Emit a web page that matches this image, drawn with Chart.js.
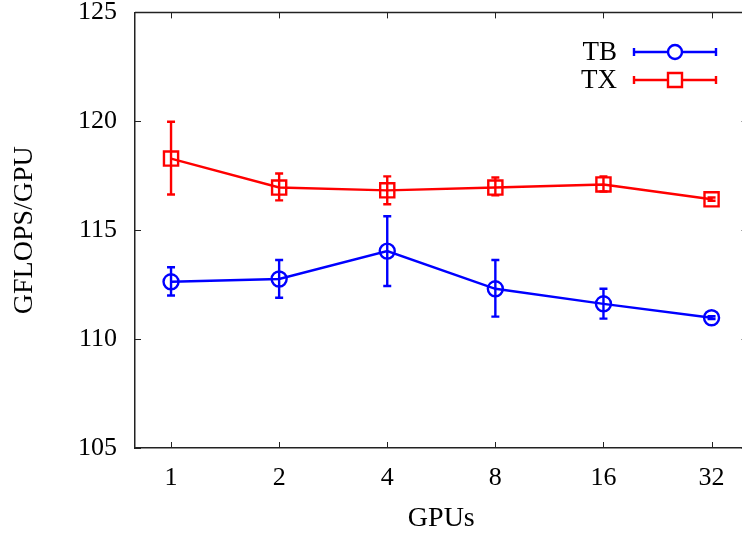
<!DOCTYPE html>
<html>
<head>
<meta charset="utf-8">
<script src="https://cdn.jsdelivr.net/npm/chart.js@4/dist/chart.umd.min.js"></script>
<style>
  html, body { margin: 0; padding: 0; background: #fff; overflow: hidden; }
  #wrap { width: 742px; height: 536px; overflow: hidden; }
</style>
</head>
<body>
<div id="wrap"><canvas id="gpuChart" width="760" height="536"></canvas></div>
<script>
// GPU counts (x categories)
const gpuLabels = ['1', '2', '4', '8', '16', '32'];

// TB series
const tbValues = [112.63, 112.76, 114.04, 112.31, 111.62, 110.98];
const tbLow    = [112.0, 111.9, 112.44, 111.03, 110.94, 110.92];
const tbHigh   = [113.3, 113.63, 115.64, 113.63, 112.31, 111.05];

// TX series
const txValues = [118.29, 116.96, 116.83, 116.96, 117.1, 116.42];
const txLow    = [116.64, 116.37, 116.19, 116.6, 116.78, 116.35];
const txHigh   = [119.98, 117.6, 117.47, 117.42, 117.47, 116.5];

const yTicks = [105, 110, 115, 120, 125];

const FONT = 'Liberation Serif';
const BLUE = '#0000ff';
const RED = '#ff0000';

const toPoints = vals => vals.map((v, i) => ({ x: i, y: v }));

const series = [
  { label: 'TB', color: BLUE, low: tbLow, high: tbHigh, marker: 'circle' },
  { label: 'TX', color: RED, low: txLow, high: txHigh, marker: 'rect' }
];

// frame, inward ticks, error bars, legend
const extras = {
  id: 'extras',
  beforeDatasetsDraw(chart) {
    const ctx = chart.ctx;
    const a = chart.chartArea;
    const xs = chart.scales.x, ys = chart.scales.y;
    ctx.save();
    ctx.strokeStyle = '#222';
    ctx.lineWidth = 1.5;
    ctx.beginPath();
    ctx.moveTo(a.left, a.top);
    ctx.lineTo(a.right, a.top);
    ctx.lineTo(a.right, a.bottom);
    ctx.stroke();
    ctx.lineWidth = 1;
    ctx.beginPath();
    yTicks.forEach(v => {
      const py = Math.round(ys.getPixelForValue(v)) + 0.5;
      ctx.moveTo(a.left, py); ctx.lineTo(a.left + 6, py);
      ctx.moveTo(a.right, py); ctx.lineTo(a.right - 6, py);
    });
    gpuLabels.forEach((l, i) => {
      const px = Math.round(xs.getPixelForValue(i)) + 0.5;
      ctx.moveTo(px, a.bottom); ctx.lineTo(px, a.bottom - 6);
      ctx.moveTo(px, a.top); ctx.lineTo(px, a.top + 6);
    });
    ctx.stroke();

    // error bars
    ctx.lineWidth = 2.4;
    series.forEach(s => {
      ctx.strokeStyle = s.color;
      ctx.beginPath();
      s.low.forEach((lo, i) => {
        const px = xs.getPixelForValue(i);
        const y1 = ys.getPixelForValue(lo), y2 = ys.getPixelForValue(s.high[i]);
        ctx.moveTo(px, y1); ctx.lineTo(px, y2);
        ctx.moveTo(px - 4, y1); ctx.lineTo(px + 4, y1);
        ctx.moveTo(px - 4, y2); ctx.lineTo(px + 4, y2);
      });
      ctx.stroke();
    });
    ctx.restore();
  },
  afterDraw(chart) {
    const ctx = chart.ctx;
    ctx.save();
    ctx.font = '27px "' + FONT + '"';
    ctx.textAlign = 'right';
    ctx.textBaseline = 'middle';
    ctx.lineWidth = 2.4;
    series.forEach((s, k) => {
      const y = 52 + k * 28;
      ctx.fillStyle = '#000';
      ctx.fillText(s.label, 617, y + 1);
      ctx.strokeStyle = s.color;
      ctx.beginPath();
      ctx.moveTo(634, y); ctx.lineTo(716, y);
      ctx.moveTo(634, y - 4); ctx.lineTo(634, y + 4);
      ctx.moveTo(716, y - 4); ctx.lineTo(716, y + 4);
      ctx.stroke();
      ctx.beginPath();
      if (s.marker === 'circle') ctx.arc(675, y, 7, 0, Math.PI * 2);
      else ctx.rect(668, y - 7, 14, 14);
      ctx.fillStyle = '#fff';
      ctx.fill();
      ctx.stroke();
    });
    ctx.restore();
  }
};

new Chart(document.getElementById('gpuChart'), {
  type: 'line',
  data: {
    datasets: [
      {
        label: 'TB', data: toPoints(tbValues),
        borderColor: BLUE, backgroundColor: 'rgba(0,0,0,0)', borderWidth: 2.4,
        pointStyle: 'circle', pointRadius: 7.5, pointBorderWidth: 2.4,
        pointBorderColor: BLUE, pointBackgroundColor: 'rgba(0,0,0,0)', tension: 0
      },
      {
        label: 'TX', data: toPoints(txValues),
        borderColor: RED, backgroundColor: 'rgba(0,0,0,0)', borderWidth: 2.4,
        pointStyle: 'rect', pointRadius: 10, pointBorderWidth: 2.4,
        pointBorderColor: RED, pointBackgroundColor: 'rgba(0,0,0,0)', tension: 0
      }
    ]
  },
  options: {
    responsive: false,
    animation: false,
    layout: { padding: { top: 10, right: 11, left: 0, bottom: 0 } },
    plugins: { legend: { display: false }, tooltip: { enabled: false } },
    scales: {
      x: {
        type: 'linear', min: -1 / 3, max: 5 + 1 / 3,
        afterFit: s => { s.height = 88; s.paddingLeft = 0; s.paddingRight = 0; },
        afterBuildTicks: s => { s.ticks = gpuLabels.map((l, i) => ({ value: i })); },
        ticks: {
          callback: (v) => gpuLabels[v],
          font: { family: FONT, size: 26 }, color: '#000', padding: 15,
          maxRotation: 0, autoSkip: false
        },
        grid: { display: false, drawTicks: false },
        border: { display: true, color: '#222', width: 1.5 },
        title: {
          display: true, text: 'GPUs', color: '#000',
          font: { family: FONT, size: 28 }, padding: { top: 0, bottom: 1 }
        }
      },
      y: {
        min: 105, max: 125,
        afterFit: s => { s.width = 135; s.paddingTop = 0; s.paddingBottom = 0; },
        afterBuildTicks: s => { s.ticks = yTicks.map(v => ({ value: v })); },
        ticks: {
          font: { family: FONT, size: 26 }, color: '#000', padding: 18
        },
        grid: { display: false, drawTicks: false },
        border: { display: true, color: '#222', width: 1.5 },
        title: {
          display: true, text: 'GFLOPS/GPU', color: '#000',
          font: { family: FONT, size: 28 }, padding: { top: 8, bottom: 0 }
        }
      }
    }
  },
  plugins: [extras]
});
</script>
</body>
</html>
